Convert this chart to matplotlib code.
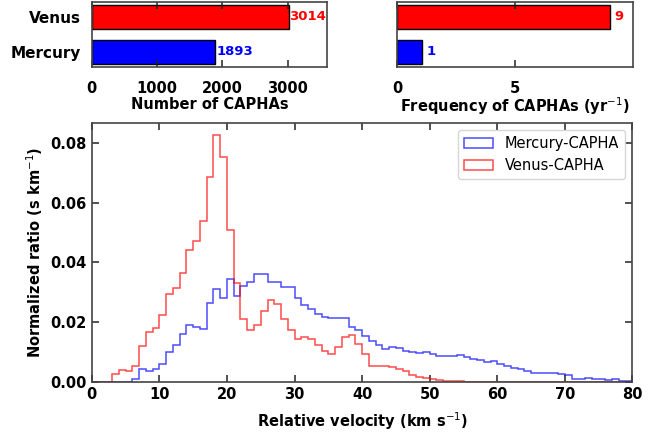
import numpy as np
import matplotlib
matplotlib.use('Agg')
import matplotlib.pyplot as plt

plt.rcParams['font.family'] = 'DejaVu Sans'
plt.rcParams['font.size'] = 10.5

# ---- data ----
planets = ['Mercury', 'Venus']
planet_colors = ['blue', 'red']
n_capha = [1893, 3014]
freq_capha = [1.06, 9.02]

vel_edges = np.arange(0, 81, 1)

mercury_ratio = [
    0, 0, 0, 0, 0, 0, 0.0011, 0.0043, 0.0038, 0.0042,
    0.0060, 0.0100, 0.0125, 0.0162, 0.0191, 0.0185, 0.0178, 0.0265, 0.0310, 0.0280,
    0.0345, 0.0287, 0.0320, 0.0336, 0.0362, 0.0360, 0.0333, 0.0333, 0.0316, 0.0316,
    0.0282, 0.0257, 0.0243, 0.0228, 0.0218, 0.0214, 0.0214, 0.0214, 0.0183, 0.0175,
    0.0155, 0.0138, 0.0125, 0.0110, 0.0116, 0.0112, 0.0105, 0.0101, 0.0097, 0.0099,
    0.0093, 0.0088, 0.0088, 0.0088, 0.0090, 0.0082, 0.0076, 0.0074, 0.0067, 0.0071,
    0.0061, 0.0054, 0.0048, 0.0042, 0.0035, 0.0030, 0.0030, 0.0030, 0.0030, 0.0027,
    0.0024, 0.0011, 0.0011, 0.0013, 0.0011, 0.0011, 0.0008, 0.0010, 0.0003, 0.0002,
]

venus_ratio = [
    0, 0, 0, 0.0028, 0.0039, 0.0036, 0.0053, 0.0120, 0.0167, 0.0180,
    0.0224, 0.0295, 0.0315, 0.0364, 0.0440, 0.0470, 0.0540, 0.0685, 0.0825, 0.0752,
    0.0510, 0.0330, 0.0212, 0.0173, 0.0190, 0.0236, 0.0274, 0.0260, 0.0210, 0.0173,
    0.0142, 0.0150, 0.0144, 0.0125, 0.0102, 0.0094, 0.0116, 0.0151, 0.0157, 0.0128,
    0.0094, 0.0052, 0.0053, 0.0054, 0.0051, 0.0044, 0.0035, 0.0024, 0.0018, 0.0012,
    0.0009, 0.0006, 0.0003, 0.0002, 0.0002, 0.0001, 0.0001, 0.0001, 0, 0,
    0, 0, 0, 0, 0, 0, 0, 0, 0, 0,
    0, 0, 0, 0, 0, 0, 0, 0, 0, 0,
]

fig = plt.figure(figsize=(6.7, 4.37), dpi=100)
ax_n = fig.add_axes([0.137, 0.847, 0.351, 0.149])
ax_f = fig.add_axes([0.593, 0.847, 0.352, 0.149])
ax = fig.add_axes([0.137, 0.126, 0.807, 0.593])


def style_ticks(a):
    a.tick_params(direction='in', top=True, right=True, length=5,
                  width=1.1, color='#222222')
    for lab in a.get_xticklabels() + a.get_yticklabels():
        lab.set_fontweight('bold')
    for sp in a.spines.values():
        sp.set_color('#444444')
        sp.set_linewidth(1.2)


# number of CAPHAs
ypos = np.arange(len(planets))
ax_n.barh(ypos, n_capha, height=0.7, color=planet_colors, edgecolor='black')
for y, v, c in zip(ypos, n_capha, planet_colors):
    ax_n.text(v + 10, y, str(v), color=c, fontweight='bold', fontsize=9.5,
              va='center', ha='left')
ax_n.set_xlim(0, 3600)
ax_n.set_yticks(ypos)
ax_n.set_yticklabels(planets, fontsize=11)
ax_n.set_xticks([0, 1000, 2000, 3000])
ax_n.set_xlabel('Number of CAPHAs', fontweight='bold')
style_ticks(ax_n)
ax_n.tick_params(axis='y', length=0, pad=8)
ax_n.tick_params(axis='x', pad=10)
ax_n.xaxis.set_label_coords(0.5, -0.46)

# frequency of CAPHAs
ax_f.barh(ypos, freq_capha, height=0.7, color=planet_colors, edgecolor='black')
for y, v, c in zip(ypos, freq_capha, planet_colors):
    ax_f.text(v + 0.2, y, f'{v:.0f}', color=c, fontweight='bold', fontsize=9.5,
              va='center', ha='left')
ax_f.set_xlim(0, 10)
ax_f.set_yticks([])
ax_f.set_xticks([0, 5])
ax_f.set_xlabel('Frequency of CAPHAs (yr$^{-1}$)', fontweight='bold')
style_ticks(ax_f)
ax_f.tick_params(axis='x', pad=10)
ax_f.xaxis.set_label_coords(0.5, -0.44)

# velocity distributions
centers = vel_edges[:-1] + 0.5
ax.hist(centers, bins=vel_edges, weights=mercury_ratio, histtype='step',
        color='blue', alpha=0.7, lw=1.1, label='Mercury-CAPHA')
ax.hist(centers, bins=vel_edges, weights=venus_ratio, histtype='step',
        color='red', alpha=0.7, lw=1.1, label='Venus-CAPHA')
ax.set_xlim(0, 80)
ax.set_ylim(0, 0.0867)
ax.set_yticks([0, 0.02, 0.04, 0.06, 0.08])
ax.set_xlabel('Relative velocity (km s$^{-1}$)', fontweight='bold', labelpad=6)
ax.set_ylabel('Normalized ratio (s km$^{-1}$)', fontweight='bold')
ax.legend(loc='upper right', fontsize=10.5)
style_ticks(ax)

fig.savefig('out.png', dpi=100)
